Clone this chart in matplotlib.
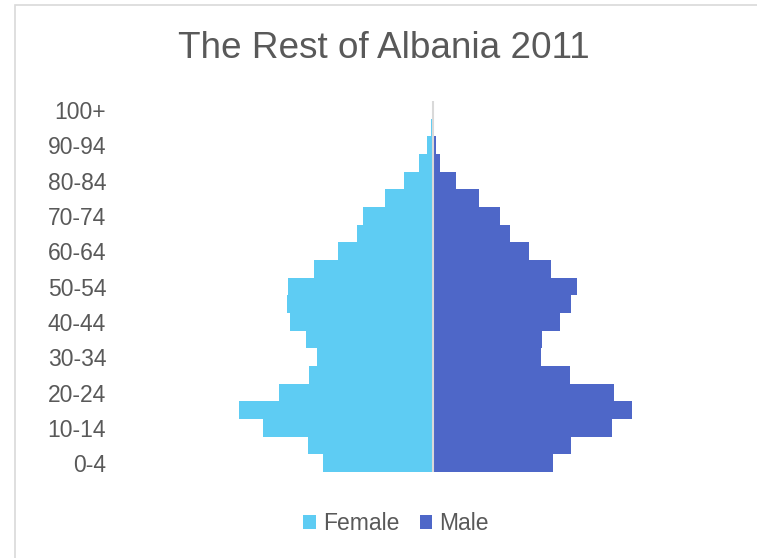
import matplotlib
matplotlib.use("Agg")
import matplotlib.pyplot as plt
from matplotlib.patches import Rectangle
import numpy as np

# DATA (thousands)
age_groups = ["0-4", "5-9", "10-14", "15-19", "20-24", "25-29", "30-34",
              "35-39", "40-44", "45-49", "50-54", "55-59", "60-64", "65-69",
              "70-74", "75-79", "80-84", "85-89", "90-94", "95-99", "100+"]
female = [54.9, 62.5, 85.0, 96.7, 76.7, 61.9, 57.7, 63.2, 71.5, 72.7, 72.5,
          59.2, 47.5, 38.0, 35.0, 24.0, 14.4, 6.9, 3.0, 0.8, 0.15]
male = [60.3, 69.5, 89.7, 99.8, 90.8, 68.7, 54.3, 54.7, 64.0, 69.5, 72.3,
        59.5, 48.3, 39.0, 33.8, 23.3, 11.8, 4.0, 1.8, 0.3, 0.1]

FEMALE_COLOR = "#5ECCF3"
MALE_COLOR = "#4E67C8"
TEXT_COLOR = "#595959"

plt.rcParams["font.family"] = ["Liberation Sans", "DejaVu Sans"]

W, H = 757, 558
fig = plt.figure(figsize=(W / 100, H / 100), dpi=100)

# outer chart border
fig.patches.append(Rectangle((15 / W, -0.1), 1.2, 1.1 - 5 / H,
                             transform=fig.transFigure, fill=False,
                             edgecolor="#D9D9D9", linewidth=1.2))

ax = fig.add_axes([120 / W, (H - 472) / H, 625 / W, 371 / H])

y = np.arange(len(age_groups))
ax.barh(y, -np.array(female), height=1.0, color=FEMALE_COLOR, label="Female")
ax.barh(y, male, height=1.0, color=MALE_COLOR, label="Male")
ax.axvline(0, color="#D9D9D9", linewidth=1.5)

ax.set_xlim(-156.3, 156.3)
ax.set_ylim(-0.5, len(age_groups) - 0.5)
ax.set_xticks([])
ax.set_yticks(y[::2])
ax.set_yticklabels(age_groups[::2], fontsize=16.5, color=TEXT_COLOR)
ax.tick_params(axis="y", length=0, pad=10)
for s in ax.spines.values():
    s.set_visible(False)

fig.text(384 / W, 1 - 48 / H, "The Rest of Albania 2011", ha="center",
         va="center", fontsize=26.6, color=TEXT_COLOR)

leg = fig.legend(loc="center", bbox_to_anchor=(396 / W, 1 - 524 / H), ncol=2,
                 frameon=False, fontsize=16.5, handlelength=0.55,
                 handleheight=0.55, handletextpad=0.3, columnspacing=0.9)
for t in leg.get_texts():
    t.set_color(TEXT_COLOR)

fig.savefig("out.png", dpi=100)
